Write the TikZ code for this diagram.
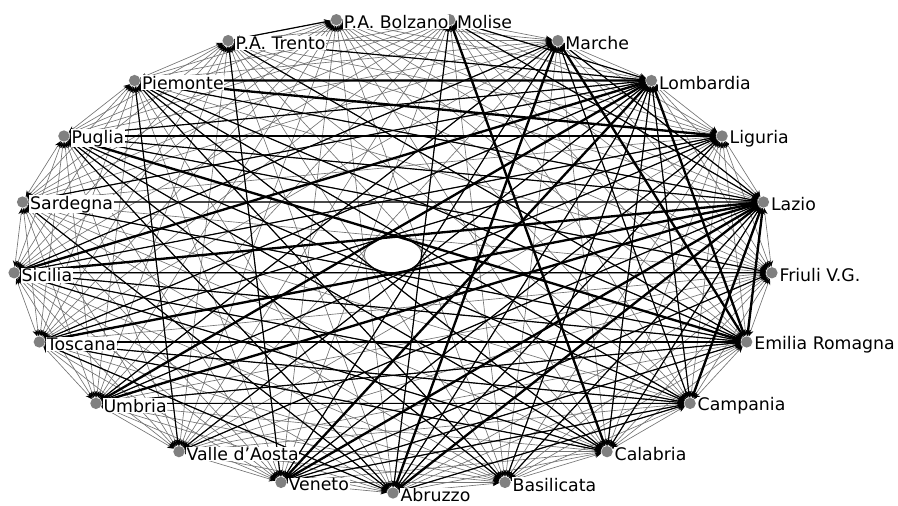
\documentclass[tikz,border=0pt]{standalone}
\usepackage{fontspec}
\setmainfont{DejaVu Sans}
\usetikzlibrary{arrows.meta,backgrounds}

\begin{document}
\begin{tikzpicture}[
  x=0.03cm, y=-0.03cm,
  region/.style={circle, fill=gray, minimum size=0.34cm, inner sep=0pt},
  tag/.style={anchor=west, fill=white, inner sep=0.6pt,
    font=\fontsize{14.8}{17}\selectfont},
  link/.style={{Stealth[length=5.5pt,width=4.5pt,color=black]}-{Stealth[length=5.5pt,width=4.5pt,color=black]},
    line width=0.55pt, color=black!55},
  tie/.style={link, line width=1pt, color=black},
  bond/.style={link, line width=2pt, color=black},
]
  \useasboundingbox (0,0) rectangle (898,505);

  % --- regions on the ellipse, in alphabetical order ---
  \foreach \id/\txt [count=\k from 0] in {abr/Abruzzo, bas/Basilicata,
      cal/Calabria, cam/Campania, emi/Emilia Romagna, fri/Friuli V.G.,
      laz/Lazio, lig/Liguria, lom/Lombardia, mar/Marche, mol/Molise,
      bol/P.A. Bolzano, tre/P.A. Trento, pie/Piemonte, pug/Puglia,
      sar/Sardegna, sic/Sicilia, tos/Toscana, umb/Umbria,
      val/Valle d'Aosta, ven/Veneto}{
    \pgfmathsetmacro\ang{270+\k*360/21}
    \node[region, alias=n\k] (\id) at ({393+380*cos(\ang)},{255-238*sin(\ang)}) {};
    \node[tag] (\id-t) at ([xshift=0.2cm,yshift=-0.07cm]\id.center) {\txt};
  }

  \begin{scope}[on background layer]
    % --- every pair ---
    \foreach \i in {0,...,19}{
      \pgfmathtruncatemacro\s{\i+1}
      \foreach \j in {\s,...,20}
        \draw[link] (n\i) -- (n\j);
    }
    % --- stronger ties ---
    \foreach \a/\b in {pug/laz, pug/cam, pug/abr, pug/cal, pie/laz, pie/val,
        pie/emi, tre/ven, tre/lom, mol/abr, mol/lom, mar/laz, mar/cam,
        lom/cal, lom/abr, lom/tos, lom/cam, lom/sar, lig/ven, lig/tos,
        laz/cal, laz/bas, laz/sar, fri/ven, emi/ven, emi/umb, emi/sic,
        emi/sar, cam/abr, cam/sic, cam/tos, cam/umb, cal/sic, cal/tos,
        bas/pug, sic/lig, abr/sar, umb/mar, val/lom, ven/cam, pie/cam,
        pug/lom, pie/bas, tre/emi, mol/laz, mar/ven, lig/abr, lig/pug,
        fri/sic, fri/pug, bas/lom, cal/pie, abr/tos, sic/mar, val/laz,
        umb/lig, bol/tre}
      \draw[tie] (\a) -- (\b);
    % --- strongest ties ---
    \foreach \a/\b in {pie/lom, pie/lig, lom/ven, lom/emi, lom/umb, mar/emi,
        mar/abr, laz/tos, laz/umb, laz/sic, laz/ven, laz/cam, laz/emi,
        tos/emi, pug/emi, mol/cal, sic/lom, abr/laz}
      \draw[bond] (\a) -- (\b);
  \end{scope}
\end{tikzpicture}
\end{document}
